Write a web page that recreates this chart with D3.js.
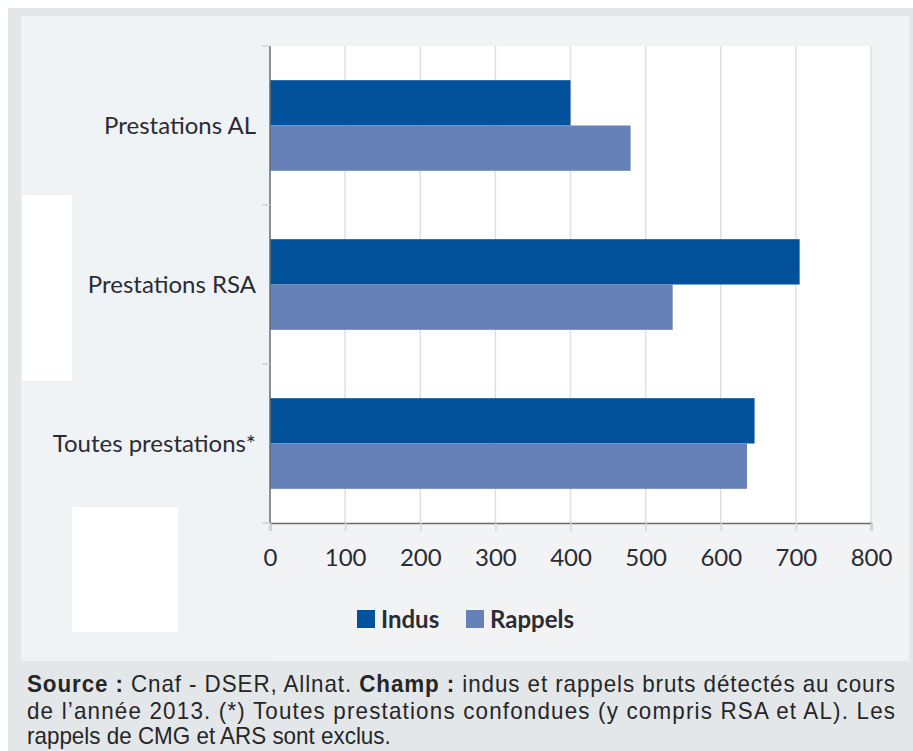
<!DOCTYPE html>
<html>
<head>
<meta charset="utf-8">
<script src="https://cdn.jsdelivr.net/npm/d3@7"></script>
<style>
  html, body { margin: 0; padding: 0; background: #ffffff; }
  svg { display: block; }
</style>
</head>
<body>
<svg id="chart" width="913" height="751"></svg>
<script>
// ---- data ----
const categories = ["Prestations AL", "Prestations RSA", "Toutes prestations*"];
const seriesNames = ["Indus", "Rappels"];
const indusValues = [400, 705, 645];
const rappelsValues = [480, 536, 635];
const xTicks = [0, 100, 200, 300, 400, 500, 600, 700, 800];
const captionLines = [
  [{t: "Source :", b: true}, {t: " Cnaf - DSER, Allnat. ", b: false}, {t: "Champ :", b: true}, {t: " indus et rappels bruts détectés au cours", b: false}],
  [{t: "de l’année 2013. (*) Toutes prestations confondues (y compris RSA et AL). Les", b: false}],
  [{t: "rappels de CMG et ARS sont exclus.", b: false}]
];

(function () {
const colors = {Indus: "#02529b", Rappels: "#6680b8"};
const svg = d3.select("#chart");
const labelFont = "Lato, 'Open Sans', sans-serif";

// ---- background frame ----
svg.append("rect").attr("x", 8).attr("y", 8).attr("width", 905).attr("height", 743).attr("fill", "#e4e7ea");
svg.append("rect").attr("x", 21).attr("y", 16).attr("width", 888).attr("height", 645).attr("fill", "#f1f3f5");
svg.append("rect").attr("x", 21).attr("y", 16).attr("width", 250).attr("height", 645).attr("fill", "#f0f3f6");
// white artifact blocks
svg.append("rect").attr("x", 22).attr("y", 195).attr("width", 50).attr("height", 186).attr("fill", "#ffffff");
svg.append("rect").attr("x", 72).attr("y", 507).attr("width", 106).attr("height", 125).attr("fill", "#ffffff");

// ---- scales ----
const pLeft = 270, pRight = 871, pTop = 46, pBottom = 523;
const x = d3.scaleLinear().domain([0, 800]).range([pLeft, pRight]);
const y0 = d3.scaleBand().domain(categories).range([pTop, pBottom]).paddingInner(0.43).paddingOuter(0.215);
const y1 = d3.scaleBand().domain(seriesNames).range([0, y0.bandwidth()]);

// plot background
svg.append("rect").attr("x", pLeft).attr("y", pTop).attr("width", pRight - pLeft).attr("height", pBottom - pTop).attr("fill", "#ffffff");

// gridlines
svg.append("g").selectAll("line").data(xTicks.slice(1)).join("line")
  .attr("x1", d => x(d)).attr("x2", d => x(d))
  .attr("y1", pTop).attr("y2", pBottom)
  .attr("stroke", "#dedfe1").attr("stroke-width", 1.5);

// bars
const rows = categories.map((c, i) => ({cat: c, vals: [
  {s: "Indus", v: indusValues[i]},
  {s: "Rappels", v: rappelsValues[i]}
]}));
const g = svg.append("g").selectAll("g").data(rows).join("g")
  .attr("transform", d => `translate(0,${y0(d.cat)})`);
g.selectAll("rect").data(d => d.vals).join("rect")
  .attr("x", x(0))
  .attr("y", d => y1(d.s))
  .attr("width", d => x(d.v) - x(0))
  .attr("height", y1.bandwidth())
  .attr("fill", d => colors[d.s]);

// x axis
const xAxis = d3.axisBottom(x).tickValues(xTicks).tickSize(8).tickPadding(18).tickFormat(d3.format("d"));
const gx = svg.append("g").attr("transform", `translate(0,${pBottom})`).call(xAxis);
gx.select(".domain").attr("stroke", "#6a6a6a").attr("stroke-width", 1.5);
gx.selectAll(".tick line").attr("stroke", "#d6d6d6").attr("stroke-width", 1.5);
gx.selectAll(".tick text").attr("font-family", labelFont).attr("font-size", 24).attr("fill", "#2b2b33");

// y axis
const yAxis = d3.scaleBand().domain(categories).range([pTop, pBottom]);
svg.append("line").attr("x1", pLeft).attr("x2", pLeft).attr("y1", pTop).attr("y2", pBottom)
  .attr("stroke", "#6a6a6a").attr("stroke-width", 1.5);
const yTickPos = [pTop].concat(categories.map(c => yAxis(c) + yAxis.bandwidth()));
svg.append("g").selectAll("line").data(yTickPos).join("line")
  .attr("x1", pLeft - 8).attr("x2", pLeft).attr("y1", d => d).attr("y2", d => d)
  .attr("stroke", "#d0d0d0").attr("stroke-width", 1.5);
svg.append("g").selectAll("text").data(categories).join("text")
  .attr("x", 256)
  .attr("y", d => y0(d) + y0.bandwidth() / 2)
  .attr("dy", "0.35em")
  .attr("text-anchor", "end")
  .attr("font-family", labelFont)
  .attr("font-size", 24)
  .attr("fill", "#2b2b33")
  .text(d => d);

// legend
const legendItems = [{s: "Indus", x: 357}, {s: "Rappels", x: 466}];
const lg = svg.append("g").selectAll("g").data(legendItems).join("g")
  .attr("transform", d => `translate(${d.x},610)`);
lg.append("rect").attr("width", 18).attr("height", 18).attr("fill", d => colors[d.s]);
lg.append("text").attr("x", 24).attr("y", 9).attr("dy", "0.36em")
  .attr("font-family", labelFont).attr("font-weight", "bold")
  .attr("font-size", 24).attr("fill", "#2b2b33").text(d => d.s);

// caption (slightly condensed by horizontal scaling)
const capFont = "'Liberation Sans', Arial, sans-serif";
const sx = 0.975;
const baselines = [692, 719, 744];
captionLines.forEach((line, i) => {
  const t = svg.append("text")
    .attr("transform", `translate(27,${baselines[i]}) scale(${sx},1)`)
    .attr("x", 0).attr("y", 0)
    .attr("font-family", capFont).attr("font-size", 23).attr("fill", "#262626");
  if (i < 2) t.attr("textLength", 868 / sx).attr("lengthAdjust", "spacing");
  line.forEach(seg => {
    t.append("tspan").attr("font-weight", seg.b ? "bold" : "normal").text(seg.t);
  });
});
})();
</script>
</body>
</html>
